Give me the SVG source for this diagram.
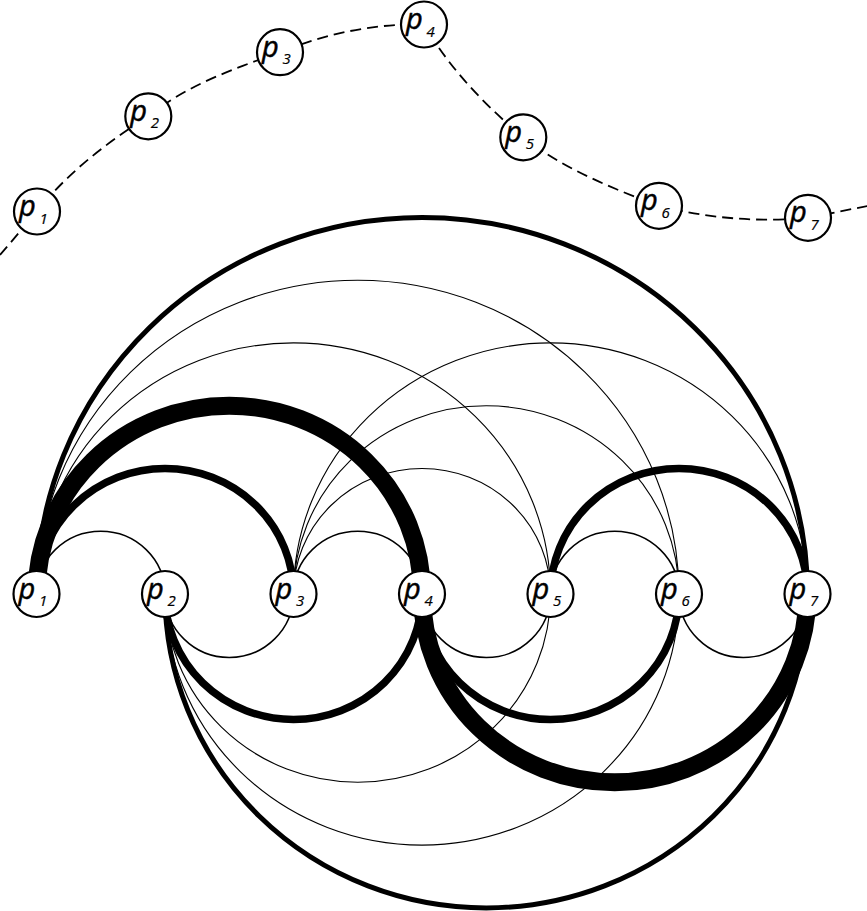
<svg xmlns="http://www.w3.org/2000/svg" width="867" height="911" viewBox="0 0 867 911">
<style>
.bg{fill:#fff}
.arc{fill:none;stroke:#000;stroke-linecap:butt}
.w1{stroke-width:1.1}
.w15{stroke-width:1.5}
.w5{stroke-width:5}
.w7{stroke-width:7.5}
.w18{stroke-width:18}
.path{fill:none;stroke:#000;stroke-width:1.8;stroke-dasharray:11 6}
.node circle{fill:#fff;stroke:#000;stroke-width:2.2}
.lbl{font-family:"Open Sans","Noto Sans","DejaVu Sans",sans-serif;font-style:italic;font-weight:400;font-size:29px;fill:#000;stroke:#000;stroke-width:0.5}
.sub{font-size:15px;stroke-width:0.2}
</style>
<rect class="bg" x="0" y="0" width="867" height="911"/>
<g id="connectors">
<path class="path" d="M0 255 L37 211.5 C67.4 172.8 106.9 142.6 148.3 116.3 C186.3 85.3 233.9 68.8 280 52.2 C324.9 33.9 374.5 23.2 424 24.5 C448.9 67.5 484.8 105.3 523.3 137.3 C563.2 168.5 611.4 188.2 659 205.8 C707.2 218.3 758.4 222.5 808 217.8 L870 205.5"/>
<g id="arcs-above">
<path class="arc w15" d="M36.5 594 A64.25 62.8 0 0 1 165 594"/>
<path class="arc w7" d="M36.5 594 A128.5 125.5 0 0 1 293.5 594"/>
<path class="arc w18" d="M36.5 594 A192.75 188.3 0 0 1 422 594"/>
<path class="arc w1" d="M36.5 594 A257 251.1 0 0 1 550.5 594"/>
<path class="arc w1" d="M36.5 594 A321.25 313.9 0 0 1 679 594"/>
<path class="arc w5" d="M36.5 594 A385.5 376.6 0 0 1 807.5 594"/>
<path class="arc w15" d="M293.5 594 A64.25 62.8 0 0 1 422 594"/>
<path class="arc w1" d="M293.5 594 A128.5 125.5 0 0 1 550.5 594"/>
<path class="arc w1" d="M293.5 594 A192.75 188.3 0 0 1 679 594"/>
<path class="arc w1" d="M293.5 594 A257 251.1 0 0 1 807.5 594"/>
<path class="arc w15" d="M550.5 594 A64.25 62.8 0 0 1 679 594"/>
<path class="arc w7" d="M550.5 594 A128.5 125.5 0 0 1 807.5 594"/>
</g>
<g id="arcs-below">
<path class="arc w15" d="M165 594 A64.25 63.5 0 0 0 293.5 594"/>
<path class="arc w7" d="M165 594 A128.5 125.5 0 0 0 422 594"/>
<path class="arc w1" d="M165 594 A192.75 188.3 0 0 0 550.5 594"/>
<path class="arc w1" d="M165 594 A257 251.1 0 0 0 679 594"/>
<path class="arc w5" d="M165 594 A321.25 313.9 0 0 0 807.5 594"/>
<path class="arc w15" d="M422 594 A64.25 63.5 0 0 0 550.5 594"/>
<path class="arc w7" d="M422 594 A128.5 125.5 0 0 0 679 594"/>
<path class="arc w18" d="M422 594 A192.75 188.3 0 0 0 807.5 594"/>
<path class="arc w15" d="M679 594 A64.25 63.5 0 0 0 807.5 594"/>
</g>
</g>
<g id="top-p1" class="node"><circle cx="37" cy="211.5" r="23"/><text class="lbl" x="19" y="216">p<tspan class="sub" x="39.5" y="223.5">1</tspan></text></g>
<g id="top-p2" class="node"><circle cx="148.3" cy="116.3" r="23"/><text class="lbl" x="130.3" y="120.8">p<tspan class="sub" x="150.8" y="128.3">2</tspan></text></g>
<g id="top-p3" class="node"><circle cx="280" cy="52.2" r="23"/><text class="lbl" x="262" y="56.7">p<tspan class="sub" x="282.5" y="64.2">3</tspan></text></g>
<g id="top-p4" class="node"><circle cx="424" cy="24.5" r="23"/><text class="lbl" x="406" y="29">p<tspan class="sub" x="426.5" y="36.5">4</tspan></text></g>
<g id="top-p5" class="node"><circle cx="523.3" cy="137.3" r="23"/><text class="lbl" x="505.3" y="141.8">p<tspan class="sub" x="525.8" y="149.3">5</tspan></text></g>
<g id="top-p6" class="node"><circle cx="659" cy="205.8" r="23"/><text class="lbl" x="641" y="210.3">p<tspan class="sub" x="661.5" y="217.8">6</tspan></text></g>
<g id="top-p7" class="node"><circle cx="808" cy="217.8" r="23"/><text class="lbl" x="790" y="222.3">p<tspan class="sub" x="810.5" y="229.8">7</tspan></text></g>
<g id="p1" class="node"><circle cx="36.5" cy="594" r="23"/><text class="lbl" x="18.5" y="598.5">p<tspan class="sub" x="39" y="606">1</tspan></text></g>
<g id="p2" class="node"><circle cx="165" cy="594" r="23"/><text class="lbl" x="147" y="598.5">p<tspan class="sub" x="167.5" y="606">2</tspan></text></g>
<g id="p3" class="node"><circle cx="293.5" cy="594" r="23"/><text class="lbl" x="275.5" y="598.5">p<tspan class="sub" x="296" y="606">3</tspan></text></g>
<g id="p4" class="node"><circle cx="422" cy="594" r="23"/><text class="lbl" x="404" y="598.5">p<tspan class="sub" x="424.5" y="606">4</tspan></text></g>
<g id="p5" class="node"><circle cx="550.5" cy="594" r="23"/><text class="lbl" x="532.5" y="598.5">p<tspan class="sub" x="553" y="606">5</tspan></text></g>
<g id="p6" class="node"><circle cx="679" cy="594" r="23"/><text class="lbl" x="661" y="598.5">p<tspan class="sub" x="681.5" y="606">6</tspan></text></g>
<g id="p7" class="node"><circle cx="807.5" cy="594" r="23"/><text class="lbl" x="789.5" y="598.5">p<tspan class="sub" x="810" y="606">7</tspan></text></g>
</svg>
